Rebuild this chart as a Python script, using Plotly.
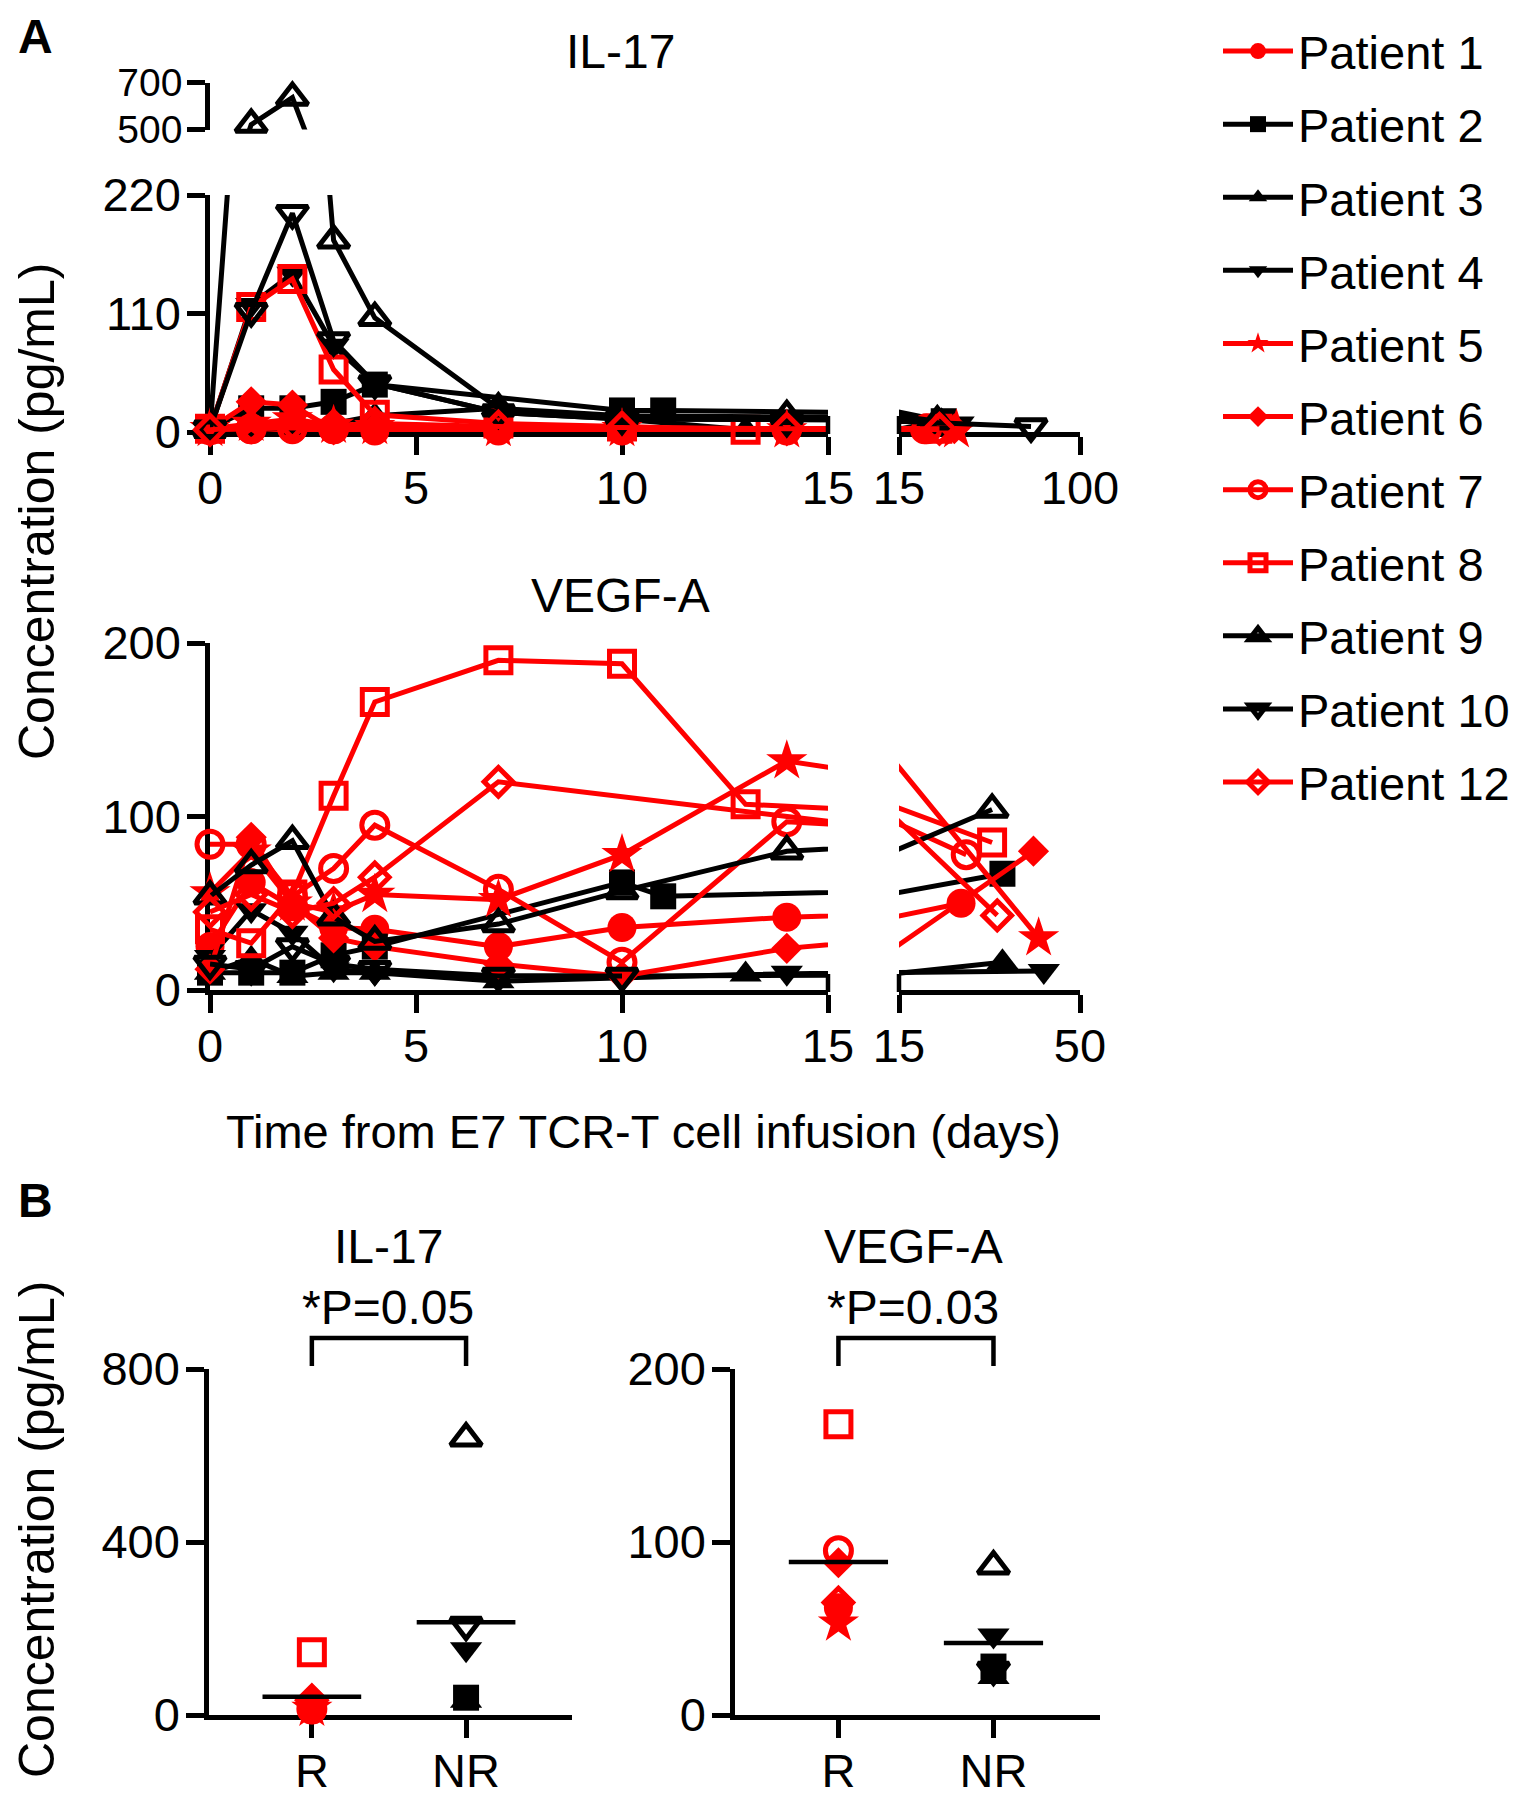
import numpy as np
import plotly.graph_objects as go

# ---------------- data ----------------
PATIENTS = ["Patient 1", "Patient 2", "Patient 3", "Patient 4", "Patient 5", "Patient 6",
            "Patient 7", "Patient 8", "Patient 9", "Patient 10", "Patient 12"]
GROUP = ["R", "NR", "NR", "NR", "R", "R", "R", "R", "NR", "NR", "R"]

# IL-17 time course (days from infusion, pg/mL), one list per patient
IL17_DAYS = [
    [0, 1, 2, 3, 4, 7, 10, 14, 27],
    [0, 1, 2, 3, 4, 10, 11, 36],
    [0, 1, 2, 3, 4, 7, 13, 35],
    [0, 1, 2, 3, 4, 7, 10, 14, 43],
    [0, 1, 2, 3, 4, 7, 10, 14, 42],
    [0, 1, 2, 3, 4, 7, 10, 14, 41],
    [0, 1, 2, 3, 4, 7, 10, 14, 28],
    [0, 1, 2, 3, 4, 7, 10, 13, 33],
    [0, 1, 2, 3, 4, 7, 10, 14, 33],
    [0, 1, 2, 3, 4, 7, 10, 14, 77],
    [0, 1, 2, 3, 4, 7, 10, 14, 34],
]
IL17_VALUES = [
    [2, 2, 2, 2, 1, 1, 1, 1, 2],
    [3, 22, 22, 28, 44, 20, 20, 10],
    [0, 2, 4, 8, 15, 22, 2, 10],
    [2, 118, 147, 80, 45, 18, 12, 10, 8],
    [3, 8, 12, 6, 5, 3, 3, 2, 2],
    [3, 28, 25, 2, 4, 3, 3, 3, 3],
    [2, 3, 4, 3, 6, 3, 3, 3, 3],
    [3, 116, 142, 58, 16, 8, 5, 2, 3],
    [2, 521, 636, 178, 106, 22, 15, 15, 10],
    [3, 112, 203, 85, 45, 18, 12, 10, 5],
    [2, 5, 8, 6, 8, 5, 4, 3, 3],
]

# VEGF-A time course
VEGF_DAYS = [
    [0, 1, 2, 3, 4, 7, 10, 14, 27],
    [0, 1, 2, 3, 4, 10, 11, 35],
    [0, 1, 2, 3, 4, 7, 13, 35],
    [0, 1, 2, 3, 4, 7, 10, 14, 43],
    [0, 1, 2, 3, 4, 7, 10, 14, 42],
    [0, 1, 2, 3, 4, 7, 10, 14, 41],
    [0, 1, 2, 3, 4, 7, 10, 14, 28],
    [0, 1, 2, 3, 4, 7, 10, 13, 33],
    [0, 1, 2, 3, 4, 7, 10, 14, 33],
    [0, 1, 2, 3, 4, 7, 10],
    [0, 1, 2, 3, 4, 7, 34],
]
VEGF_VALUES = [
    [25, 62, 48, 36, 35, 25, 36, 42, 50],
    [10, 10, 10, 20, 25, 62, 54, 67],
    [10, 18, 8, 10, 10, 5, 9, 16],
    [19, 46, 33, 12, 10, 8, 8, 10, 11],
    [56, 80, 50, 45, 55, 52, 78, 132, 30],
    [12, 88, 50, 30, 25, 15, 8, 24, 80],
    [84, 84, 54, 70, 95, 58, 16, 97, 78],
    [35, 27, 55, 112, 166, 190, 188, 107, 85],
    [54, 72, 86, 42, 28, 38, 57, 80, 104],
    [15, 12, 25, 15, 12, 8, 8],
    [45, 55, 45, 50, 65, 120, 43],
]

# Panel B: peak concentrations per patient
PEAK_IL17 = [12, 40, 33, 152, 15, 32, 14, 145, 640, 208, 34]
PEAK_VEGF = [62, 28, 22, 46, 53, 88, 95, 168, 86, 26, 65]
B_CATEGORIES = ["R", "NR"]

# ---------------- styles ----------------
FONT = "Liberation Sans, Arial, Helvetica, sans-serif"
RED = "#ff0000"
BLACK = "#000000"
SYMBOLS = ["circle", "square", "triangle-up", "triangle-down", "star", "diamond",
           "circle-open", "square-open", "triangle-up-open", "triangle-down-open", "diamond-open"]
SIZES = [29, 26, 28, 28, 31, 24, 26, 25, 27, 27, 22]
OFF = 8                      # page body margin
FW, FH = 1518, 1792          # figure size so that the page is 1526 x 1800
LW = 4.5
TRACE_LW = 5
OPEN_LW = 5


def px_x(p):
    return (p - OFF) / FW


def px_y(p):
    return 1 - (p - OFF) / FH


fig = go.Figure()


def marker_style(i):
    c = RED if GROUP[i] == "R" else BLACK
    openm = SYMBOLS[i].endswith("open")
    return c, dict(symbol=SYMBOLS[i], size=SIZES[i], color=c,
                   line=dict(color=c, width=OPEN_LW if openm else 0))


def add_series(days, vals, i, xa, ya, showlegend=False):
    c, mk = marker_style(i)
    fig.add_trace(go.Scatter(
        x=days, y=vals, xaxis=xa, yaxis=ya, mode="lines+markers",
        cliponaxis=False, name=PATIENTS[i], legendgroup=PATIENTS[i],
        showlegend=showlegend, line=dict(color=c, width=TRACE_LW),
        marker=mk, hoverinfo="skip",
    ))


# VEGF first (legend order)
for i in range(len(PATIENTS)):
    add_series(VEGF_DAYS[i], VEGF_VALUES[i], i, "x3", "y3", showlegend=True)
    add_series(VEGF_DAYS[i], VEGF_VALUES[i], i, "x4", "y3")
for i in range(len(PATIENTS)):
    for xa in ("x", "x2"):
        for ya in ("y", "y2"):
            add_series(IL17_DAYS[i], IL17_VALUES[i], i, xa, ya)

# Panel B
MEAN_HALF = 0.32
for (vals, xa, ya) in ((PEAK_IL17, "x5", "y4"), (PEAK_VEGF, "x6", "y5")):
    for i in range(len(PATIENTS)):
        c, mk = marker_style(i)
        xi = B_CATEGORIES.index(GROUP[i])
        fig.add_trace(go.Scatter(
            x=[xi], y=[vals[i]], xaxis=xa, yaxis=ya, mode="markers",
            cliponaxis=False, showlegend=False, hoverinfo="skip", marker=mk,
        ))
    for k, g in enumerate(B_CATEGORIES):
        m = float(np.mean([v for v, gg in zip(vals, GROUP) if gg == g]))
        fig.add_trace(go.Scatter(
            x=[k - MEAN_HALF, k + MEAN_HALF], y=[m, m], xaxis=xa, yaxis=ya,
            mode="lines", line=dict(color=BLACK, width=LW), showlegend=False,
            hoverinfo="skip", cliponaxis=False,
        ))

# ---------------- axes ----------------
ax = dict(showline=True, linewidth=LW, linecolor=BLACK, ticks="outside", ticklen=18,
          tickwidth=LW, tickcolor=BLACK, showgrid=False, zeroline=False,
          tickfont=dict(size=47, color=BLACK, family=FONT), layer="below traces",
          fixedrange=True, automargin=False)
axx = dict(ax, ticklabelstandoff=-7)
axy = dict(ax, ticklabelstandoff=-3)
axy_top = dict(axy, tickfont=dict(size=39, color=BLACK, family=FONT))

SEG1 = [px_x(210), px_x(828)]
SEG2 = [px_x(899), px_x(1080)]
BR = [-0.667, 1.687]
B1 = [px_x(209), px_x(572)]
B2 = [px_x(735), px_x(1100)]
IL17_AXIS_Y = 432
VEGF_AXIS_Y = 990

fig.update_layout(
    template="none",
    xaxis=dict(axx, domain=SEG1, range=[0, 15], tickvals=[0, 5, 10, 15], anchor="y"),
    xaxis2=dict(axx, domain=SEG2, range=[15, 100], tickvals=[15, 100], anchor="y"),
    yaxis=dict(axy, domain=[px_y(IL17_AXIS_Y), px_y(195)], range=[0, 220], tickvals=[0, 110, 220], anchor="x"),
    yaxis2=dict(axy_top, domain=[px_y(129.5), px_y(82.5)], range=[500, 700], tickvals=[500, 700], anchor="x"),
    xaxis3=dict(axx, domain=SEG1, range=[0, 15], tickvals=[0, 5, 10, 15], anchor="y3"),
    xaxis4=dict(axx, domain=SEG2, range=[15, 50], tickvals=[15, 50], anchor="y3"),
    yaxis3=dict(axy, domain=[px_y(VEGF_AXIS_Y), px_y(643)], range=[0, 200], tickvals=[0, 100, 200], anchor="x3"),
    xaxis5=dict(axx, domain=B1, range=BR, tickvals=[0, 1], ticktext=B_CATEGORIES, anchor="y4"),
    yaxis4=dict(axy, domain=[px_y(1715), px_y(1369)], range=[0, 800], tickvals=[0, 400, 800], anchor="x5"),
    xaxis6=dict(axx, domain=B2, range=BR, tickvals=[0, 1], ticktext=B_CATEGORIES, anchor="y5"),
    yaxis5=dict(axy, domain=[px_y(1715), px_y(1369)], range=[0, 200], tickvals=[0, 100, 200], anchor="x6"),
)

# ---------------- annotations ----------------
def ann(text, x, y, size=48, bold=False, angle=0):
    return dict(text=("<b>%s</b>" % text) if bold else text, x=px_x(x), y=px_y(y),
                xref="paper", yref="paper", showarrow=False, textangle=angle,
                font=dict(size=size, color=BLACK, family=FONT), xanchor="center", yanchor="middle")


def cat_paper(dom, v):
    return dom[0] + (v - BR[0]) / (BR[1] - BR[0]) * (dom[1] - dom[0])


annotations = [
    ann("A", 35, 36, 48, True),
    ann("B", 35, 1200, 48, True),
    ann("IL-17", 620, 52),
    ann("VEGF-A", 620, 595),
    ann("Time from E7 TCR-T cell infusion (days)", 643, 1131, 47),
    ann("Concentration (pg/mL)", 37, 512, 50, angle=-90),
    ann("Concentration (pg/mL)", 37, 1530, 50, angle=-90),
    ann("IL-17", 388, 1246),
    ann("*P=0.05", 388, 1307),
    ann("VEGF-A", 913, 1246),
    ann("*P=0.03", 913, 1307),
]

shapes = []
# significance brackets
for dom in (B1, B2):
    x0 = cat_paper(dom, 0)
    x1 = cat_paper(dom, 1)
    yt = px_y(1338)
    yb = px_y(1366)
    shapes.append(dict(type="path", xref="paper", yref="paper",
                       path="M %f,%f L %f,%f L %f,%f L %f,%f" % (x0, yb, x0, yt, x1, yt, x1, yb),
                       line=dict(color=BLACK, width=LW)))
# broken-axis end caps (rise above the x axis at the break)
CAP = 16
for axis_y in (IL17_AXIS_Y, VEGF_AXIS_Y):
    for xp in (SEG1[1], SEG2[0]):
        shapes.append(dict(type="line", xref="paper", yref="paper",
                           x0=xp, x1=xp, y0=px_y(axis_y + 2), y1=px_y(axis_y - CAP),
                           line=dict(color=BLACK, width=LW)))

fig.update_layout(
    width=FW, height=FH, margin=dict(l=0, r=0, t=0, b=0, autoexpand=False),
    paper_bgcolor="white", plot_bgcolor="white",
    annotations=annotations, shapes=shapes,
    font=dict(family=FONT, color=BLACK),
    legend=dict(x=px_x(1218), y=px_y(14), xanchor="left", yanchor="top",
                font=dict(size=47, family=FONT, color=BLACK),
                itemwidth=70, tracegroupgap=9, bgcolor="rgba(0,0,0,0)"),
)

fig.write_html("out.html")
